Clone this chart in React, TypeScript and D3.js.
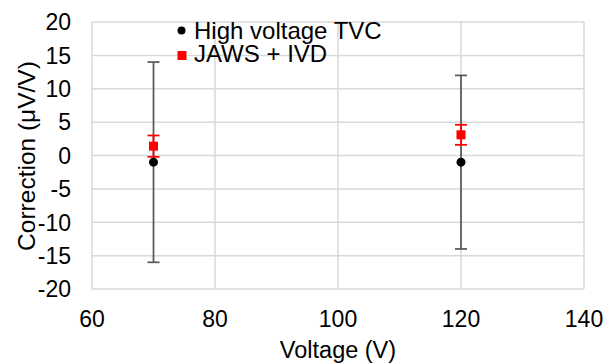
import React from "react";
import * as d3 from "d3";

const xTicks = [60, 80, 100, 120, 140];
const yTicks = [-20, -15, -10, -5, 0, 5, 10, 15, 20];

const tvcVoltage = [70, 120];
const tvcValue = [-1, -1];
const tvcError = [15, 13];

const jawsVoltage = [70, 120];
const jawsValue = [1.4, 3.1];
const jawsError = [1.6, 1.5];

const seriesNames = ["High voltage TVC", "JAWS + IVD"];

const W = 612;
const H = 364;
const left = 92;
const right = 584;
const top = 22;
const bottom = 289;
const font = "'Liberation Sans', Arial, sans-serif";

export default function App() {
  const x = d3.scaleLinear().domain([60, 140]).range([left, right]);
  const y = d3.scaleLinear().domain([-20, 20]).range([bottom, top]);
  const grid = "#d9d9d9";
  const cap = 6;
  return (
    <svg width={W} height={H} style={{ position: "absolute", left: 0, top: 0 }} fontFamily={font}>
      <rect x={0} y={0} width={W} height={H} fill="#fff" />
      {yTicks.map((t) => (
        <line key={"gy" + t} x1={left} x2={right} y1={y(t)} y2={y(t)} stroke={grid} strokeWidth={1.5} />
      ))}
      {xTicks.map((t) => (
        <line key={"gx" + t} x1={x(t)} x2={x(t)} y1={top} y2={bottom} stroke={grid} strokeWidth={1.5} />
      ))}
      {yTicks.map((t) => (
        <text key={"ty" + t} x={71} y={y(t)} dy="0.36em" textAnchor="end" fontSize={23} fill="#000">
          {t}
        </text>
      ))}
      {xTicks.map((t) => (
        <text key={"tx" + t} x={x(t)} y={327} textAnchor="middle" fontSize={23} fill="#000">
          {t}
        </text>
      ))}
      <text x={(left + right) / 2} y={358} textAnchor="middle" fontSize={23.5} fill="#000">
        Voltage (V)
      </text>
      <text
        transform={`translate(35,156) rotate(-90)`}
        textAnchor="middle"
        fontSize={24.5}
        fill="#000"
      >
        Correction (μV/V)
      </text>
      {tvcVoltage.map((v, i) => {
        const cx = x(v);
        const y1 = y(tvcValue[i] + tvcError[i]);
        const y2 = y(tvcValue[i] - tvcError[i]);
        return (
          <g key={"tvc" + i} stroke="#595959" strokeWidth={1.75}>
            <line x1={cx} x2={cx} y1={y1} y2={y2} />
            <line x1={cx - cap} x2={cx + cap} y1={y1} y2={y1} />
            <line x1={cx - cap} x2={cx + cap} y1={y2} y2={y2} />
          </g>
        );
      })}
      {jawsVoltage.map((v, i) => {
        const cx = x(v);
        const y1 = y(jawsValue[i] + jawsError[i]);
        const y2 = y(jawsValue[i] - jawsError[i]);
        return (
          <g key={"jaws" + i} stroke="#ff0000" strokeWidth={1.75}>
            <line x1={cx} x2={cx} y1={y1} y2={y2} />
            <line x1={cx - cap} x2={cx + cap} y1={y1} y2={y1} />
            <line x1={cx - cap} x2={cx + cap} y1={y2} y2={y2} />
          </g>
        );
      })}
      {tvcVoltage.map((v, i) => (
        <circle key={"c" + i} cx={x(v)} cy={y(tvcValue[i])} r={4.5} fill="#000" />
      ))}
      {jawsVoltage.map((v, i) => (
        <rect key={"s" + i} x={x(v) - 4.5} y={y(jawsValue[i]) - 4.5} width={9} height={9} fill="#ff0000" />
      ))}
      <circle cx={181.5} cy={30.5} r={4} fill="#000" />
      <text x={194} y={38.5} fontSize={24} fill="#000">{seriesNames[0]}</text>
      <rect x={177.5} y={51} width={9} height={9} fill="#ff0000" />
      <text x={194} y={62} fontSize={24} fill="#000">{seriesNames[1]}</text>
    </svg>
  );
}
